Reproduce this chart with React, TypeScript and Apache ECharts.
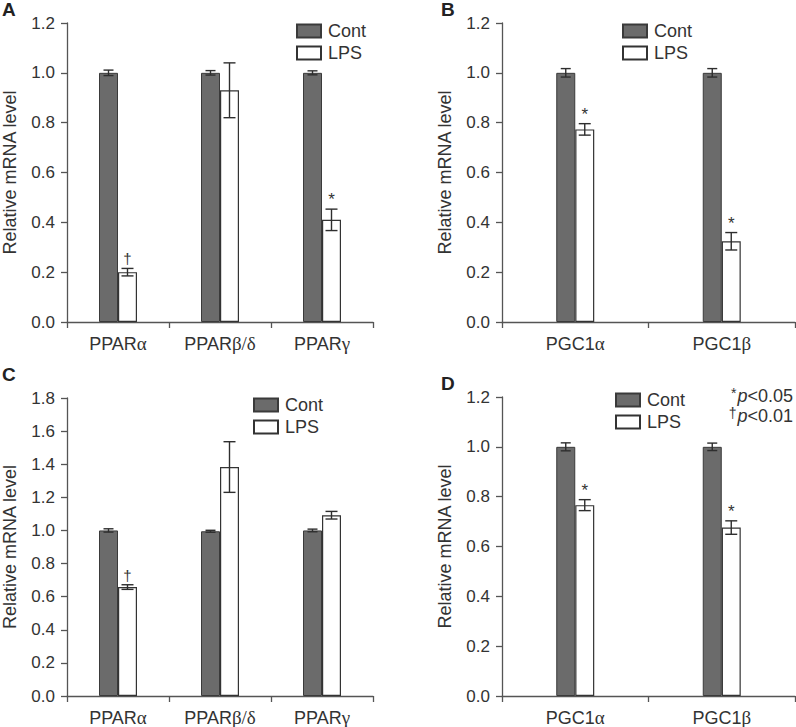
import React, { useEffect, useRef } from "react";
import * as echarts from "echarts";

// ---- data ----
const catsPPAR = ["PPARα", "PPARβ/δ", "PPARγ"];
const catsPGC = ["PGC1α", "PGC1β"];

const contA = [1.0, 1.0, 1.0];
const contErrA = [0.011, 0.009, 0.008];
const lpsA = [0.2, 0.93, 0.41];
const lpsErrA = [0.015, 0.11, 0.043];
const markA = ["†", "", "*"];

const contB = [1.0, 1.0];
const contErrB = [0.017, 0.017];
const lpsB = [0.773, 0.324];
const lpsErrB = [0.023, 0.035];
const markB = ["*", "*"];

const contC = [1.0, 0.995, 1.0];
const contErrC = [0.01, 0.006, 0.008];
const lpsC = [0.658, 1.383, 1.092];
const lpsErrC = [0.014, 0.153, 0.023];
const markC = ["†", "", ""];

const contD = [1.0, 1.0];
const contErrD = [0.016, 0.015];
const lpsD = [0.766, 0.676];
const lpsErrD = [0.022, 0.027];
const markD = ["*", "*"];

const yMaxA = 1.2;
const yMaxB = 1.2;
const yMaxC = 1.8;
const yMaxD = 1.2;
const yStep = 0.2;

const seriesNames = ["Cont", "LPS"];
const pNotes = [
  { sym: "*", text: "<0.05" },
  { sym: "†", text: "<0.01" },
];

const SANS = "'Liberation Sans', Arial, Helvetica, sans-serif";
const SERIF = "'Liberation Serif', 'Times New Roman', serif";
const INK = "#333333";
const AXIS = "#555555";

function catFormatter(v: string) {
  return v.replace(/([α-ω\/]+)/g, "{g|$1}").replace(/^([^{]+)/, "{s|$1}");
}

function makeRender(cont: number[], contErr: number[], lps: number[], lpsErr: number[], marks: string[]) {
  return (params: any, api: any) => {
    const i = api.value(0);
    const children: any[] = [];
    const specs = [
      [cont[i], contErr[i], -9.5, 5],
      [lps[i], lpsErr[i], 9.5, 6],
    ];
    let lpsTop = 0;
    let lpsX = 0;
    specs.forEach(([v, e, off, hw], k) => {
      const t = api.coord([i, v + e]);
      const b = api.coord([i, v - e]);
      const x = t[0] + off;
      const st = { stroke: "#2e2e2e", lineWidth: 1.4, fill: null };
      children.push({ type: "line", shape: { x1: x, y1: t[1], x2: x, y2: b[1] }, style: st });
      children.push({ type: "line", shape: { x1: x - hw, y1: t[1], x2: x + hw, y2: t[1] }, style: st });
      children.push({ type: "line", shape: { x1: x - hw, y1: b[1], x2: x + hw, y2: b[1] }, style: st });
      if (k === 1) {
        lpsTop = t[1];
        lpsX = x;
      }
    });
    const m = marks[i];
    if (m) {
      children.push({
        type: "text",
        style: {
          text: m,
          x: lpsX,
          y: m === "*" ? lpsTop - 1 : lpsTop - 2,
          align: "center",
          verticalAlign: "bottom",
          fontSize: m === "*" ? 17 : 15,
          fontFamily: SANS,
          fill: INK,
        },
      });
    }
    return { type: "group", children };
  };
}

export default function App() {
  const ref = useRef<HTMLDivElement>(null);
  useEffect(() => {
    if (!ref.current) return;
    const chart = echarts.init(ref.current, null, { renderer: "svg" });

    const grids = [
      { left: 63, top: 23, width: 310, height: 299 },
      { left: 502, top: 23, width: 293, height: 299 },
      { left: 63, top: 398, width: 310, height: 299 },
      { left: 502, top: 397, width: 293, height: 300 },
    ];
    const panels = [
      { cats: catsPPAR, cont: contA, contErr: contErrA, lps: lpsA, lpsErr: lpsErrA, marks: markA, max: yMaxA },
      { cats: catsPGC, cont: contB, contErr: contErrB, lps: lpsB, lpsErr: lpsErrB, marks: markB, max: yMaxB },
      { cats: catsPPAR, cont: contC, contErr: contErrC, lps: lpsC, lpsErr: lpsErrC, marks: markC, max: yMaxC },
      { cats: catsPGC, cont: contD, contErr: contErrD, lps: lpsD, lpsErr: lpsErrD, marks: markD, max: yMaxD },
    ];

    const xAxis = panels.map((p, k) => ({
      type: "category",
      gridIndex: k,
      data: p.cats,
      axisLine: { lineStyle: { color: AXIS, width: 1.3 } },
      axisTick: { show: true, length: 6, interval: 0, lineStyle: { color: AXIS, width: 1.3 } },
      axisLabel: {
        margin: 12,
        interval: 0,
        formatter: catFormatter,
        rich: {
          s: { fontSize: 18, fontFamily: SANS, color: INK },
          g: { fontSize: 19, fontFamily: SERIF, color: INK },
        },
      },
    }));

    const yAxis = panels.map((p, k) => ({
      type: "value",
      gridIndex: k,
      min: 0,
      max: p.max,
      interval: yStep,
      name: "Relative mRNA level",
      nameLocation: "middle",
      nameGap: 48,
      nameTextStyle: { fontSize: 18, fontFamily: SANS, color: INK },
      axisLine: { show: true, lineStyle: { color: AXIS, width: 1.3 } },
      axisTick: { show: true, length: 6, lineStyle: { color: AXIS, width: 1.3 } },
      splitLine: { show: false },
      axisLabel: {
        margin: 12,
        fontSize: 17,
        fontFamily: SANS,
        color: INK,
        formatter: (v: number) => v.toFixed(1),
      },
    }));

    const series: any[] = [];
    panels.forEach((p, k) => {
      series.push({
        name: seriesNames[0],
        type: "bar",
        xAxisIndex: k,
        yAxisIndex: k,
        data: p.cont,
        barWidth: 19,
        barGap: "0%",
        itemStyle: { color: "#6b6b6b", borderColor: "#3a3a3a", borderWidth: 1 },
      });
      series.push({
        name: seriesNames[1],
        type: "bar",
        xAxisIndex: k,
        yAxisIndex: k,
        data: p.lps,
        barWidth: 19,
        barGap: "0%",
        itemStyle: { color: "#ffffff", borderColor: "#333333", borderWidth: 1.2 },
      });
      series.push({
        type: "custom",
        xAxisIndex: k,
        yAxisIndex: k,
        z: 5,
        itemStyle: { color: INK },
        data: p.cats.map((_, i) => [i, p.lps[i]]),
        encode: { x: 0, y: 1 },
        renderItem: makeRender(p.cont, p.contErr, p.lps, p.lpsErr, p.marks),
        silent: true,
      });
    });

    const legendPos = [
      { left: 291, top: 17 },
      { left: 617, top: 17 },
      { left: 248, top: 391 },
      { left: 610, top: 386 },
    ];
    const legend = legendPos.map((pos) => ({
      ...pos,
      orient: "vertical",
      data: seriesNames,
      icon: "rect",
      itemWidth: 24,
      itemHeight: 13,
      itemGap: 4,
      selectedMode: false,
      textStyle: { fontSize: 18, fontFamily: SANS, color: INK, padding: [0, 0, 0, 2] },
    }));

    const panelLabel = (t: string, x: number, y: number) => ({
      type: "text",
      left: x,
      top: y,
      style: { text: t, fontSize: 19, fontWeight: "bold", fontFamily: SANS, fill: "#222" },
    });

    const noteTexts = pNotes.map((n, i) => ({
      type: "text",
      right: 3,
      top: 386 + i * 20,
      style: {
        text: `{sup|${n.sym}}{it|p}{n|${n.text}}`,
        rich: {
          sup: { fontSize: 14, fontFamily: SANS, fill: INK, verticalAlign: "top", padding: [0, 1, 6, 0] },
          it: { fontSize: 18, fontFamily: SANS, fontStyle: "italic", fill: INK },
          n: { fontSize: 18, fontFamily: SANS, fill: INK },
        },
      },
    }));

    chart.setOption({
      animation: false,
      backgroundColor: "#ffffff",
      grid: grids,
      xAxis,
      yAxis,
      legend,
      series,
      graphic: [
        panelLabel("A", 2, 0),
        panelLabel("B", 441, 0),
        panelLabel("C", 2, 365),
        panelLabel("D", 441, 374),
        ...noteTexts,
      ],
    });
    return () => chart.dispose();
  }, []);

  return (
    <div
      ref={ref}
      style={{ position: "absolute", left: 0, top: 0, width: 796, height: 727, background: "#fff" }}
    />
  );
}
